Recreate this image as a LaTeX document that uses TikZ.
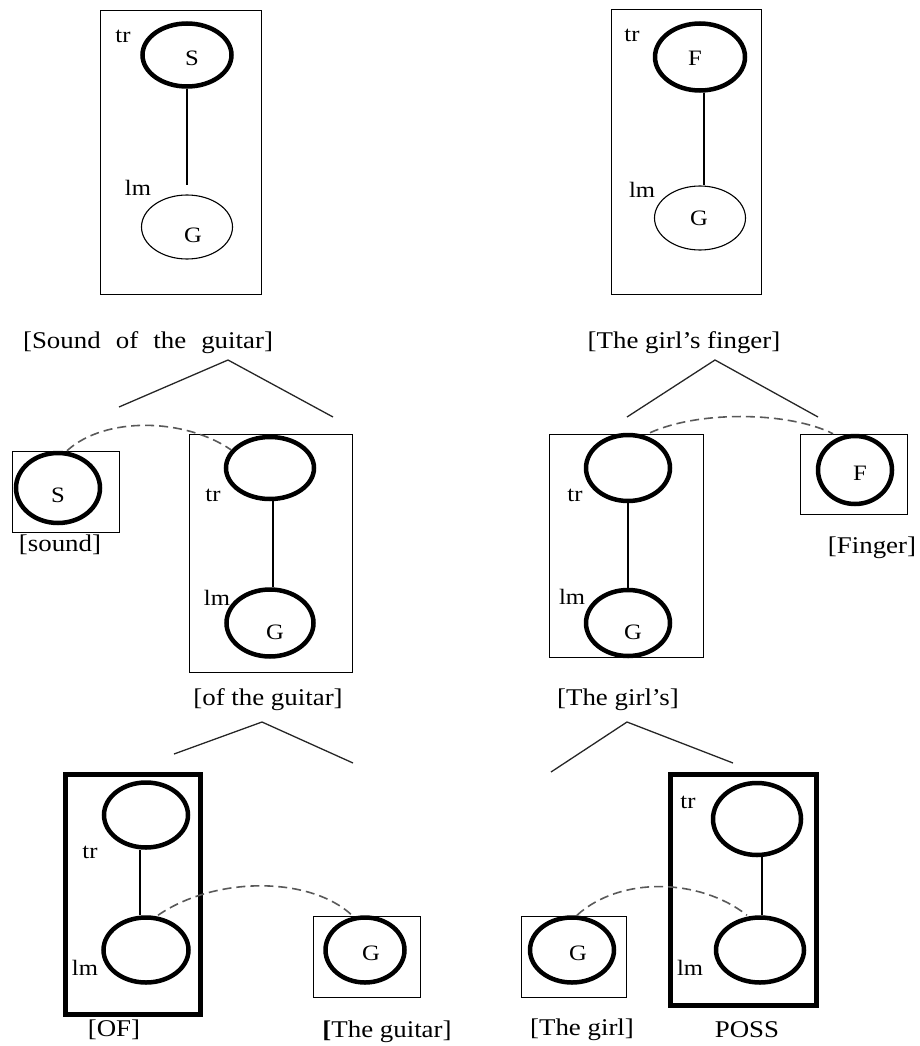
\documentclass[tikz,border=0pt]{standalone}
\usepackage{fontspec}
\setmainfont[FakeStretch=1.12]{Liberation Serif}
\usetikzlibrary{shapes.geometric}
\begin{document}
\begin{tikzpicture}[x=1pt,y=-1pt,
  bx/.style={draw, rectangle, line width=1.6pt, inner sep=0pt},
  bxthick/.style={draw, rectangle, line width=4.5pt, inner sep=0pt},
  ethick/.style={draw, ellipse, line width=4.5pt, inner sep=0pt},
  ethin/.style={draw, ellipse, line width=1.1pt, inner sep=0pt},
  big/.style={font=\fontsize{24}{28}\selectfont, inner sep=0pt},
  sml/.style={font=\fontsize{22}{26}\selectfont, inner sep=0pt},
  dsh/.style={draw=black!65, line width=1.6pt, dash pattern=on 9pt off 5pt},
  tree/.style={line width=1.3pt, draw=black!85},
  link/.style={line width=1.6pt}]
\useasboundingbox (0,0) rectangle (919,1046);

% ---------- top left ----------
\node[bx, minimum width=161pt, minimum height=284pt] (b1) at (181,152.5) {};
\node[ethick, minimum width=89pt, minimum height=63pt] (s1) at (187,55) {};
\node[sml] (s1t) at (192,58) {S};
\node[sml] (tr1) at (123,36) {tr};
\node[ethin, minimum width=91pt, minimum height=64pt] (g1) at (187,227) {};
\node[sml] (g1t) at (193,235) {G};
\node[sml] (lm1) at (138,188) {lm};
\coordinate (c1) at (187,185);
\draw[link] (s1.south) -- (c1);

% ---------- top right ----------
\node[bx, minimum width=150pt, minimum height=285pt] (b2) at (686.5,152) {};
\node[ethick, minimum width=90pt, minimum height=67pt] (f1) at (700,57) {};
\node[sml] (f1t) at (695,58) {F};
\node[sml] (tr2) at (632,35) {tr};
\node[ethin, minimum width=91pt, minimum height=64pt] (g2) at (700,218) {};
\node[sml] (g2t) at (699,218) {G};
\node[sml] (lm2) at (642,190) {lm};
\draw[line width=1.1pt] ([xshift=4pt]f1.south) -- ([xshift=4pt]g2.north);

% ---------- labels row 1 ----------
\node[big] (l1) at (148,343) {[Sound\hspace{0.35em} of\hspace{0.35em} the\hspace{0.35em} guitar]};
\node[big] (l2) at (684,343) {[The girl’s finger]};
\coordinate (t1a) at (228,360);
\coordinate (t1l) at (119,407);
\coordinate (t1r) at (333,417);
\draw[tree] (t1l) -- (t1a) -- (t1r);
\coordinate (t2a) at (715,360);
\coordinate (t2l) at (627,417);
\coordinate (t2r) at (818,417);
\draw[tree] (t2l) -- (t2a) -- (t2r);

% ---------- middle left ----------
\node[bx, minimum width=107pt, minimum height=81pt] (b3) at (66,492) {};
\node[ethick, minimum width=84pt, minimum height=70pt] (s2) at (58,488) {};
\node[sml] (s2t) at (58,495) {S};
\node[big] (l3) at (60,545) {[sound]};

\node[bx, minimum width=163pt, minimum height=238pt] (b4) at (271,553.5) {};
\node[ethick, minimum width=88pt, minimum height=62pt] (og1) at (270,468) {};
\node[ethick, minimum width=87pt, minimum height=67pt] (og2) at (270,623) {};
\node[sml] (tr3) at (213,495) {tr};
\node[sml] (lm3) at (217,598) {lm};
\node[sml] (og2t) at (275,632) {G};
\draw[link] ([xshift=3pt]og1.south) -- ([xshift=3pt]og2.north);
\node[big] (l4) at (268,700) {[of the guitar]};
\draw[dsh] ([xshift=9pt]s2.north) .. controls (105,416) and (185,418) .. (og1.155);

% ---------- middle right ----------
\node[bx, minimum width=154pt, minimum height=223pt] (b5) at (626.5,546) {};
\node[ethick, minimum width=84pt, minimum height=66pt] (gs1) at (628,468) {};
\node[ethick, minimum width=84pt, minimum height=66pt] (gs2) at (628,623) {};
\node[sml] (tr4) at (575,495) {tr};
\node[sml] (lm4) at (572,597) {lm};
\node[sml] (gs2t) at (633,632) {G};
\draw[link] (gs1.south) -- (gs2.north);
\node[big] (l5) at (618,700) {[The girl’s]};

\node[bx, minimum width=107pt, minimum height=80pt] (b6) at (854,474.5) {};
\node[ethick, minimum width=74pt, minimum height=68pt] (f3) at (855,470) {};
\node[sml] (f3t) at (860,473) {F};
\node[big] (l6) at (872,548) {[Finger]};
\draw[dsh] ([xshift=22pt]gs1.north) .. controls (700,410) and (790,412) .. ([xshift=-22pt]f3.north);

% ---------- tree lines row 2 ----------
\coordinate (t3a) at (262,722);
\coordinate (t3l) at (174,754);
\coordinate (t3r) at (353,763);
\draw[tree] (t3l) -- (t3a) -- (t3r);
\coordinate (t4a) at (627,722);
\coordinate (t4l) at (551,772);
\coordinate (t4r) at (733,763);
\draw[tree] (t4l) -- (t4a) -- (t4r);

% ---------- bottom left ----------
\node[bxthick, minimum width=135pt, minimum height=240pt] (b7) at (133,894.5) {};
\node[ethick, minimum width=84pt, minimum height=65pt] (ofa) at (146,815) {};
\node[ethick, minimum width=85pt, minimum height=65pt] (ofb) at (146,950) {};
\node[sml] (tr5) at (90,852) {tr};
\node[sml] (lm5) at (85,968) {lm};
\draw[link] ([xshift=-6pt]ofa.south) -- ([xshift=-6pt]ofb.north);
\node[big] (l7) at (114,1030) {[OF]};

\node[bx, minimum width=107pt, minimum height=81pt] (b8) at (367,957) {};
\node[ethick, minimum width=79pt, minimum height=65pt] (g8) at (365,950) {};
\node[sml] (g8t) at (371,953) {G};
\node[big] (l8) at (387,1032) {\textbf{[}The guitar]};
\draw[dsh] ([xshift=12pt]ofb.north) .. controls (215,876) and (310,876) .. ([xshift=-13pt]g8.north);

% ---------- bottom right ----------
\node[bx, minimum width=105pt, minimum height=81pt] (b9) at (574,957) {};
\node[ethick, minimum width=84pt, minimum height=65pt] (g9) at (572,950) {};
\node[sml] (g9t) at (578,953) {G};
\node[big] (l9) at (582,1030) {[The girl]};

\node[bxthick, minimum width=146pt, minimum height=231pt] (b10) at (743.5,890) {};
\node[ethick, minimum width=88pt, minimum height=72pt] (posa) at (757,819) {};
\node[ethick, minimum width=88pt, minimum height=65pt] (posb) at (760,950) {};
\node[sml] (tr6) at (688,802) {tr};
\node[sml] (lm6) at (690,968) {lm};
\draw[line width=1.2pt] ([xshift=5pt]posa.south) -- ([xshift=2pt]posb.north);
\node[big] (l10) at (747,1030) {POSS};
\draw[dsh] ([xshift=5pt]g9.north) .. controls (620,876) and (700,878) .. ([xshift=-13pt]posb.north);
\end{tikzpicture}
\end{document}
